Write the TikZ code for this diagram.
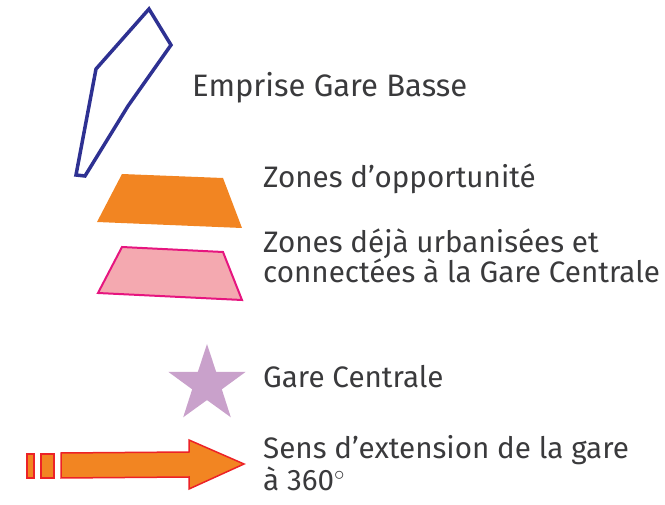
\documentclass[tikz,border=0pt]{standalone}
\usepackage{fontspec}
\setmainfont{Fira Sans}
\usetikzlibrary{shapes.geometric}
\definecolor{txt}{HTML}{3A3A3C}
\definecolor{navy}{HTML}{2E3192}
\definecolor{orng}{HTML}{F28522}
\definecolor{pinkfill}{HTML}{F4A9B0}
\definecolor{pinkline}{HTML}{E6157F}
\definecolor{starcol}{HTML}{C9A1CB}
\definecolor{arrred}{HTML}{EC2227}
\tikzset{
  lbl/.style={anchor=base west, inner sep=0pt, text=txt, font=\fontsize{29.6}{29}\selectfont, align=left},
  zoneA/.style={fill=orng, draw=none},
  zoneB/.style={fill=pinkfill, draw=pinkline, line width=2pt, line join=miter},
  arr/.style={fill=orng, draw=arrred, line width=1.5pt, line join=miter}
}
\begin{document}
\begin{tikzpicture}[x=1pt,y=-1pt]
\useasboundingbox (0,0) rectangle (665,505);
% Emprise polygon
\draw[navy, line width=3.5pt, line join=miter] (149,9) -- (171,45) -- (128,106) -- (85,176) -- (76,175) -- (96,69) -- cycle;
% orange trapezoid
\fill[zoneA] (122,174) -- (223,178) -- (242,228) -- (97,222) -- cycle;
% pink trapezoid
\filldraw[zoneB] (122,247) -- (223,252) -- (242,300) -- (98,293) -- cycle;
% star
\node[star, star points=5, star point ratio=2.6, minimum size=81pt, inner sep=0pt, fill=starcol] (st) at (207,384.5) {};
% arrow
\filldraw[arr] (27,454) rectangle (34,478);
\filldraw[arr] (41,454) rectangle (54,478);
\filldraw[arr] (61,453) -- (189,452) -- (189,440) -- (244,464) -- (189,489) -- (189,477) -- (61,478) -- cycle;
% labels
\node[lbl, font=\fontsize{31}{30}\selectfont] (t1) at (192,97) {Emprise Gare Basse};
\node[lbl] (t2) at (263,188) {Zones d’opportunité};
\node[lbl] (t3) at (263,283) {Zones déjà urbanisées et\\connectées à la Gare Centrale};
\node[lbl] (t4) at (263,388) {Gare Centrale};
\node[lbl] (t5) at (263,490) {Sens d’extension de la gare\\à 360$^\circ$};
\end{tikzpicture}
\end{document}
